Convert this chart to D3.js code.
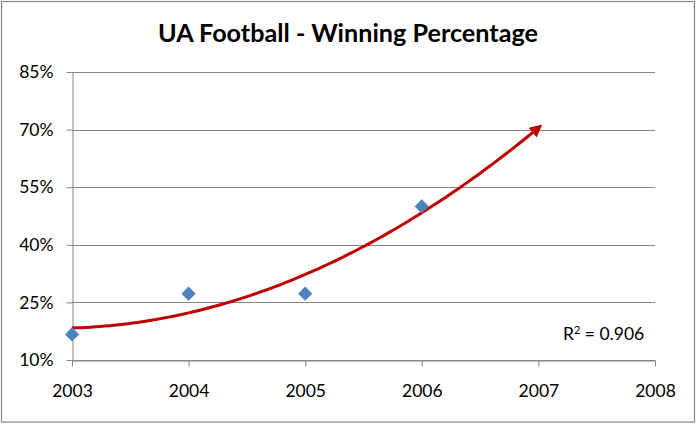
<!DOCTYPE html>
<html><head><meta charset="utf-8">
<script src="https://cdn.jsdelivr.net/npm/d3@7"></script>
<style>
html,body{margin:0;padding:0;background:#fff;}
svg{display:block;font-family:Lato,"Open Sans",sans-serif;}
</style></head>
<body>
<svg id="chart" width="697" height="424"></svg>
<script>
const title = "UA Football - Winning Percentage";
const years = [2003, 2004, 2005, 2006];
const winPct = [0.1667, 0.2727, 0.2727, 0.5];
const xTicks = [2003, 2004, 2005, 2006, 2007, 2008];
const yTicks = [0.10, 0.25, 0.40, 0.55, 0.70, 0.85];
const forecastEnd = 2007;
const r2Label = "0.906";

const svg = d3.select("#chart");
const x = d3.scaleLinear().domain([2003, 2008]).range([72, 655]);
const y = d3.scaleLinear().domain([0.10, 0.85]).range([360, 72]);

// outer border
svg.append("rect").attr("x",1.5).attr("y",1.5).attr("width",693).attr("height",420.5)
  .attr("fill","#fff").attr("stroke","#868686").attr("stroke-width",1.2);

// title
svg.append("text").attr("x",348).attr("y",42).attr("text-anchor","middle")
  .attr("font-size",25.2).attr("font-weight","bold").attr("fill","#000").text(title);

// gridlines
svg.append("g").selectAll("line").data(yTicks).join("line")
  .attr("x1",72).attr("x2",655).attr("y1",d=>Math.round(y(d))+0.5).attr("y2",d=>Math.round(y(d))+0.5)
  .attr("stroke","#868686").attr("stroke-width",1);

// y axis
const yAxis = svg.append("g").attr("transform","translate(72.5,0)")
  .call(d3.axisLeft(y).tickValues(yTicks).tickFormat(d3.format(".0%")).tickSize(6).tickSizeOuter(0));
yAxis.select(".domain").attr("stroke","#868686");
yAxis.selectAll(".tick line").attr("stroke","#868686");
yAxis.selectAll(".tick text").attr("font-size",17.5).attr("fill","#000").attr("x",-19)
  .attr("font-family","Lato,'Open Sans',sans-serif");

// x axis
const xAxis = svg.append("g").attr("transform","translate(0,360.5)")
  .call(d3.axisBottom(x).tickValues(xTicks).tickFormat(d3.format("d")).tickSize(6).tickSizeOuter(0));
xAxis.select(".domain").attr("stroke","#868686");
xAxis.selectAll(".tick line").attr("stroke","#868686");
xAxis.selectAll(".tick text").attr("font-size",17.5).attr("fill","#000").attr("y",24)
  .attr("font-family","Lato,'Open Sans',sans-serif");

// polynomial (order 2) least-squares trendline computed from the data
function polyFit2(xs, ys){
  const n = xs.length;
  let s = [0,0,0,0,0], t=[0,0,0];
  for(let i=0;i<n;i++){
    const xi = xs[i]-xs[0];
    for(let k=0;k<5;k++) s[k]+=Math.pow(xi,k);
    for(let k=0;k<3;k++) t[k]+=ys[i]*Math.pow(xi,k);
  }
  const A=[[s[0],s[1],s[2],t[0]],[s[1],s[2],s[3],t[1]],[s[2],s[3],s[4],t[2]]];
  for(let i=0;i<3;i++){
    for(let j=i+1;j<3;j++){
      const f=A[j][i]/A[i][i];
      for(let k=i;k<4;k++) A[j][k]-=f*A[i][k];
    }
  }
  const c=[0,0,0];
  for(let i=2;i>=0;i--){
    let v=A[i][3];
    for(let k=i+1;k<3;k++) v-=A[i][k]*c[k];
    c[i]=v/A[i][i];
  }
  return xv => c[0]+c[1]*(xv-xs[0])+c[2]*Math.pow(xv-xs[0],2);
}
const fit = polyFit2(years, winPct);
const trendPts = d3.range(0, 101).map(i => {
  const xv = years[0] + (forecastEnd - years[0]) * i / 100;
  return [xv, fit(xv)];
});

const defs = svg.append("defs");
defs.append("marker").attr("id","arrow").attr("viewBox","0 0 10 10")
  .attr("refX",6).attr("refY",5).attr("markerWidth",4.2).attr("markerHeight",4.2)
  .attr("markerUnits","strokeWidth").attr("orient","auto")
  .append("path").attr("d","M0,0 L10,5 L0,10 Z").attr("fill","#C00000");

svg.append("path").datum(trendPts)
  .attr("d", d3.line().x(d=>x(d[0])).y(d=>y(d[1])))
  .attr("fill","none").attr("stroke","#C00000").attr("stroke-width",3)
  .attr("marker-end","url(#arrow)");

// markers
svg.append("g").selectAll("path").data(years.map((yr,i)=>[yr,winPct[i]])).join("path")
  .attr("transform", d=>`translate(${x(d[0])},${y(d[1])})`)
  .attr("d", d3.symbol().type(d3.symbolDiamond2).size(120))
  .attr("fill","#4F81BD").attr("stroke","#4A7EBB").attr("stroke-width",0.5);

// R² label
const r = svg.append("text").attr("x",563).attr("y",340).attr("font-size",17.5).attr("fill","#000");
r.append("tspan").text("R");
r.append("tspan").text("2").attr("font-size",11).attr("dy",-6);
r.append("tspan").text(" = " + r2Label).attr("dy",6);
</script>
</body></html>
